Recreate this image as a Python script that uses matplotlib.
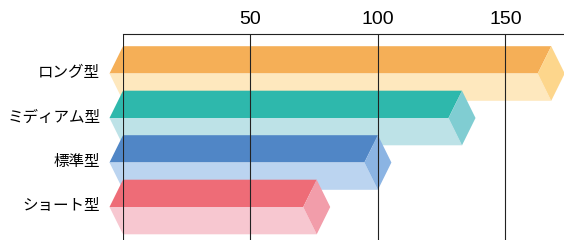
import matplotlib
matplotlib.use("Agg")
import matplotlib.pyplot as plt
import matplotlib.transforms as mtrans
from matplotlib.patches import Polygon

plt.rcParams['font.family'] = ['Noto Sans CJK JP', 'DejaVu Sans']

categories = ["ロング型", "ミディアム型", "標準型", "ショート型"]
values = [168, 133, 100, 76]
tick_values = [50, 100, 150]
tick_labels = ["50", "100", "150"]

top_colors = ["#F5AF57", "#2EB8AC", "#5086C6", "#EE6C77"]
low_colors = ["#FEE8BE", "#BDE2E7", "#BBD4F0", "#F7C7D0"]
cap_colors = ["#FDD68C", "#80CDD2", "#8BB4E3", "#F29DAA"]

W, H = 564, 240
fig = plt.figure(figsize=(W / 100, H / 100), dpi=100)
left_px, top_px = 123, 34
ax = fig.add_axes([left_px / W, 0, 1 - left_px / W, 1 - top_px / H])

px_per_unit_x = 2.549
spacing_px = 44.5
xmax = (W - left_px) / px_per_unit_x
first_center = 73.5
ytop = -(first_center - top_px) / spacing_px
ybot = (H - first_center) / spacing_px
ax.set_xlim(0, xmax)
ax.set_ylim(ybot, ytop)

h = 27.3 / spacing_px
d = 13.5 / px_per_unit_x

for i, (cat, v) in enumerate(zip(categories, values)):
    c = i
    topf = Polygon([(0, c - h), (v, c - h), (v - d, c), (-d, c)], closed=True,
                   facecolor=top_colors[i], edgecolor='none', clip_on=False, zorder=2 + i)
    lowf = Polygon([(-d, c), (v - d, c), (v, c + h), (0, c + h)], closed=True,
                   facecolor=low_colors[i], edgecolor='none', clip_on=False, zorder=2 + i)
    cap = Polygon([(v, c - h), (v + d, c), (v, c + h), (v - d, c)], closed=True,
                  facecolor=cap_colors[i], edgecolor='none', clip_on=False, zorder=2 + i)
    for p in (topf, lowf, cap):
        ax.add_patch(p)

for x in [0] + tick_values:
    ax.axvline(x, color='#222222', linewidth=0.8, zorder=10)

for s in ['right', 'bottom', 'left']:
    ax.spines[s].set_visible(False)
ax.spines['top'].set_color('#222222')
ax.spines['top'].set_linewidth(0.8)
ax.spines['top'].set_zorder(11)

ax.xaxis.tick_top()
ax.set_xticks(tick_values)
ax.set_xticklabels(tick_labels, fontsize=14, family=['Liberation Sans', 'DejaVu Sans'])
ax.tick_params(axis='x', length=0, pad=4)

ax.set_yticks(range(len(categories)))
ax.set_yticklabels(categories, fontsize=11.2)
ax.tick_params(axis='y', length=0, pad=16.5)
offset = mtrans.ScaledTranslation(0, 3 / 100, fig.dpi_scale_trans)
for lbl in ax.get_yticklabels():
    lbl.set_transform(lbl.get_transform() + offset)

fig.savefig("out.png", dpi=100)
